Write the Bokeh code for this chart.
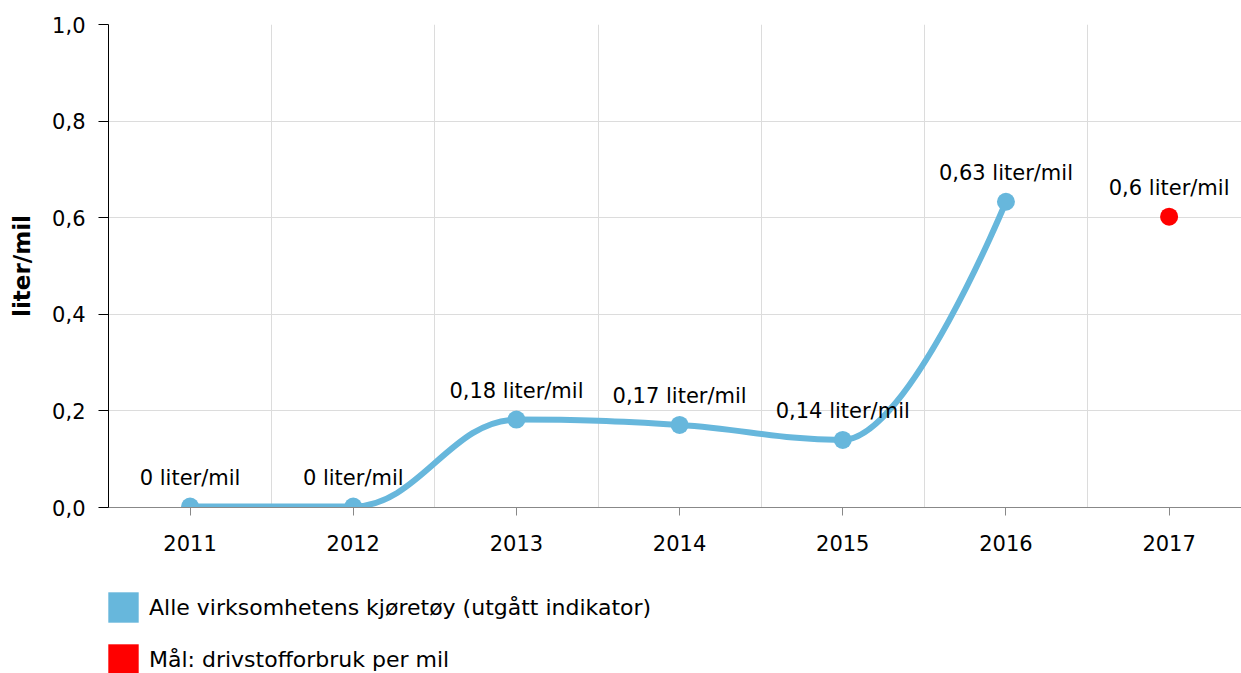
from bokeh.plotting import figure
from bokeh.layouts import column
from bokeh.models import (ColumnDataSource, Range1d, FixedTicker, CustomJSTickFormatter,
                          Legend, LegendItem)
from bokeh.core.properties import value
from bokeh.embed import file_html
from bokeh.resources import INLINE

# ---- data ----
years = [2011, 2012, 2013, 2014, 2015, 2016]
fuel = [0.002, 0.002, 0.182, 0.171, 0.140, 0.633]
target_years = [2017]
target = [0.602]
x_ticks = [2011, 2012, 2013, 2014, 2015, 2016, 2017]
y_ticks = [0.0, 0.2, 0.4, 0.6, 0.8, 1.0]
unit = "liter/mil"
series_name = "Alle virksomhetens kjøretøy (utgått indikator)"
target_name = "Mål: drivstofforbruk per mil"

BLUE = "#67b7dc"
RED = "#ff0000"
FONT = "DejaVu Sans"
FS = "21px"


def fmt(v):
    return format(round(v, 2), "g").replace(".", ",") + " " + unit


def spline(xs, ys, smoothing=1.5):
    n = len(xs)
    denom = smoothing + 1
    left = [None] * n
    right = [None] * n
    for i in range(1, n - 1):
        px, py = xs[i], ys[i]
        lx, ly = xs[i - 1], ys[i - 1]
        nx, ny = xs[i + 1], ys[i + 1]
        lcx = (smoothing * px + lx) / denom
        lcy = (smoothing * py + ly) / denom
        rcx = (smoothing * px + nx) / denom
        rcy = (smoothing * py + ny) / denom
        if rcx != lcx:
            corr = (rcy - lcy) * (rcx - px) / (rcx - lcx) + py - rcy
            lcy += corr
            rcy += corr
        if lcy > ly and lcy > py:
            lcy = max(ly, py)
            rcy = 2 * py - lcy
        elif lcy < ly and lcy < py:
            lcy = min(ly, py)
            rcy = 2 * py - lcy
        if rcy > ny and rcy > py:
            rcy = max(ny, py)
            lcy = 2 * py - rcy
        elif rcy < ny and rcy < py:
            rcy = min(ny, py)
            lcy = 2 * py - rcy
        left[i] = (lcx, lcy)
        right[i] = (rcx, rcy)
    seg = dict(x0=[], y0=[], x1=[], y1=[], cx0=[], cy0=[], cx1=[], cy1=[])
    for i in range(1, n):
        sx, sy = xs[i - 1], ys[i - 1]
        ex, ey = xs[i], ys[i]
        c0 = right[i - 1] or (sx, sy)
        c1 = left[i] or (ex, ey)
        seg["x0"].append(sx); seg["y0"].append(sy)
        seg["x1"].append(ex); seg["y1"].append(ey)
        seg["cx0"].append(c0[0]); seg["cy0"].append(c0[1])
        seg["cx1"].append(c1[0]); seg["cy1"].append(c1[1])
    return seg


cat_w = 1133 / 163.17  # visible number of categories
p = figure(width=1241, height=563,
           x_range=Range1d(x_ticks[0] - 0.5, x_ticks[0] - 0.5 + cat_w),
           y_range=Range1d(y_ticks[0], y_ticks[-1]),
           output_backend="svg", toolbar_location=None,
           min_border_left=108, min_border_right=0,
           min_border_top=24, min_border_bottom=56)
p.outline_line_color = None
p.background_fill_color = "white"

# grid
p.xgrid.ticker = FixedTicker(ticks=[t - 0.5 for t in x_ticks])
p.ygrid.ticker = FixedTicker(ticks=y_ticks)
p.xgrid.grid_line_color = "#dcdcdc"
p.ygrid.grid_line_color = "#dcdcdc"

# axes
p.xaxis.ticker = FixedTicker(ticks=x_ticks)
p.xaxis.axis_line_color = "#888888"
p.xaxis.major_tick_line_color = "#888888"
p.xaxis.major_tick_out = 8
p.xaxis.major_tick_in = 0
p.xaxis.minor_tick_line_color = None
p.xaxis.major_label_standoff = 19
p.xaxis.major_label_text_font = FONT
p.xaxis.major_label_text_font_size = FS
p.xaxis.major_label_text_color = "#000000"

p.yaxis.ticker = FixedTicker(ticks=y_ticks)
p.yaxis.formatter = CustomJSTickFormatter(code="return tick.toFixed(1).replace('.', ',');")
p.yaxis.axis_line_color = "#000000"
p.yaxis.major_tick_line_color = "#000000"
p.yaxis.major_tick_out = 10
p.yaxis.major_tick_in = 0
p.yaxis.minor_tick_line_color = None
p.yaxis.major_label_standoff = 13
p.yaxis.major_label_text_font = FONT
p.yaxis.major_label_text_font_size = FS
p.yaxis.major_label_text_color = "#000000"
p.yaxis.axis_label = unit
p.yaxis.axis_label_text_font = FONT
p.yaxis.axis_label_text_font_size = "23px"
p.yaxis.axis_label_text_font_style = "bold"
p.yaxis.axis_label_text_color = "#000000"
p.yaxis.axis_label_standoff = 14

# spline line
p.bezier(source=ColumnDataSource(spline(years, fuel)),
         x0="x0", y0="y0", x1="x1", y1="y1",
         cx0="cx0", cy0="cy0", cx1="cx1", cy1="cy1",
         line_color=BLUE, line_width=6, line_cap="round")

src = ColumnDataSource(dict(x=years, y=fuel, lab=[fmt(v) for v in fuel]))
p.scatter("x", "y", source=src, size=18, fill_color=BLUE, line_color=None)
p.text("x", "y", text="lab", source=src, text_align="center", text_baseline="alphabetic",
       y_offset=-29, text_font=value(FONT), text_font_size=FS, text_color="#000000")

tsrc = ColumnDataSource(dict(x=target_years, y=target, lab=[fmt(v) for v in target]))
p.scatter("x", "y", source=tsrc, size=18, fill_color=RED, line_color=None)
p.text("x", "y", text="lab", source=tsrc, text_align="center", text_baseline="alphabetic",
       y_offset=-29, text_font=value(FONT), text_font_size=FS, text_color="#000000")

# legend in a separate strip below (hidden swatch renderers, drawn only in legend)
lg = figure(width=1241, height=110, output_backend="svg", toolbar_location=None,
            x_axis_type=None, y_axis_type=None, min_border=0,
            x_range=Range1d(0, 1), y_range=Range1d(0, 1))
lg.outline_line_color = None
lg.xgrid.visible = False
lg.ygrid.visible = False
sw = ColumnDataSource(dict(l=[0], r=[1], t=[1], b=[0]))
r1 = lg.quad(left="l", right="r", top="t", bottom="b", source=sw,
             fill_color=BLUE, line_color=None, visible=False)
r2 = lg.quad(left="l", right="r", top="t", bottom="b", source=sw,
             fill_color=RED, line_color=None, visible=False)
legend = Legend(items=[LegendItem(label=series_name, renderers=[r1]),
                       LegendItem(label=target_name, renderers=[r2])],
                location=(-4, -5), orientation="vertical",
                glyph_width=38, glyph_height=38, spacing=14, padding=0, margin=0,
                label_standoff=7, label_text_font=FONT, label_text_font_size="22px",
                label_text_color="#000000", border_line_color=None,
                background_fill_alpha=0, inactive_fill_alpha=0)
lg.add_layout(legend)

layout = column(p, lg, spacing=0)
open("out.html", "w").write(file_html(layout, INLINE))
